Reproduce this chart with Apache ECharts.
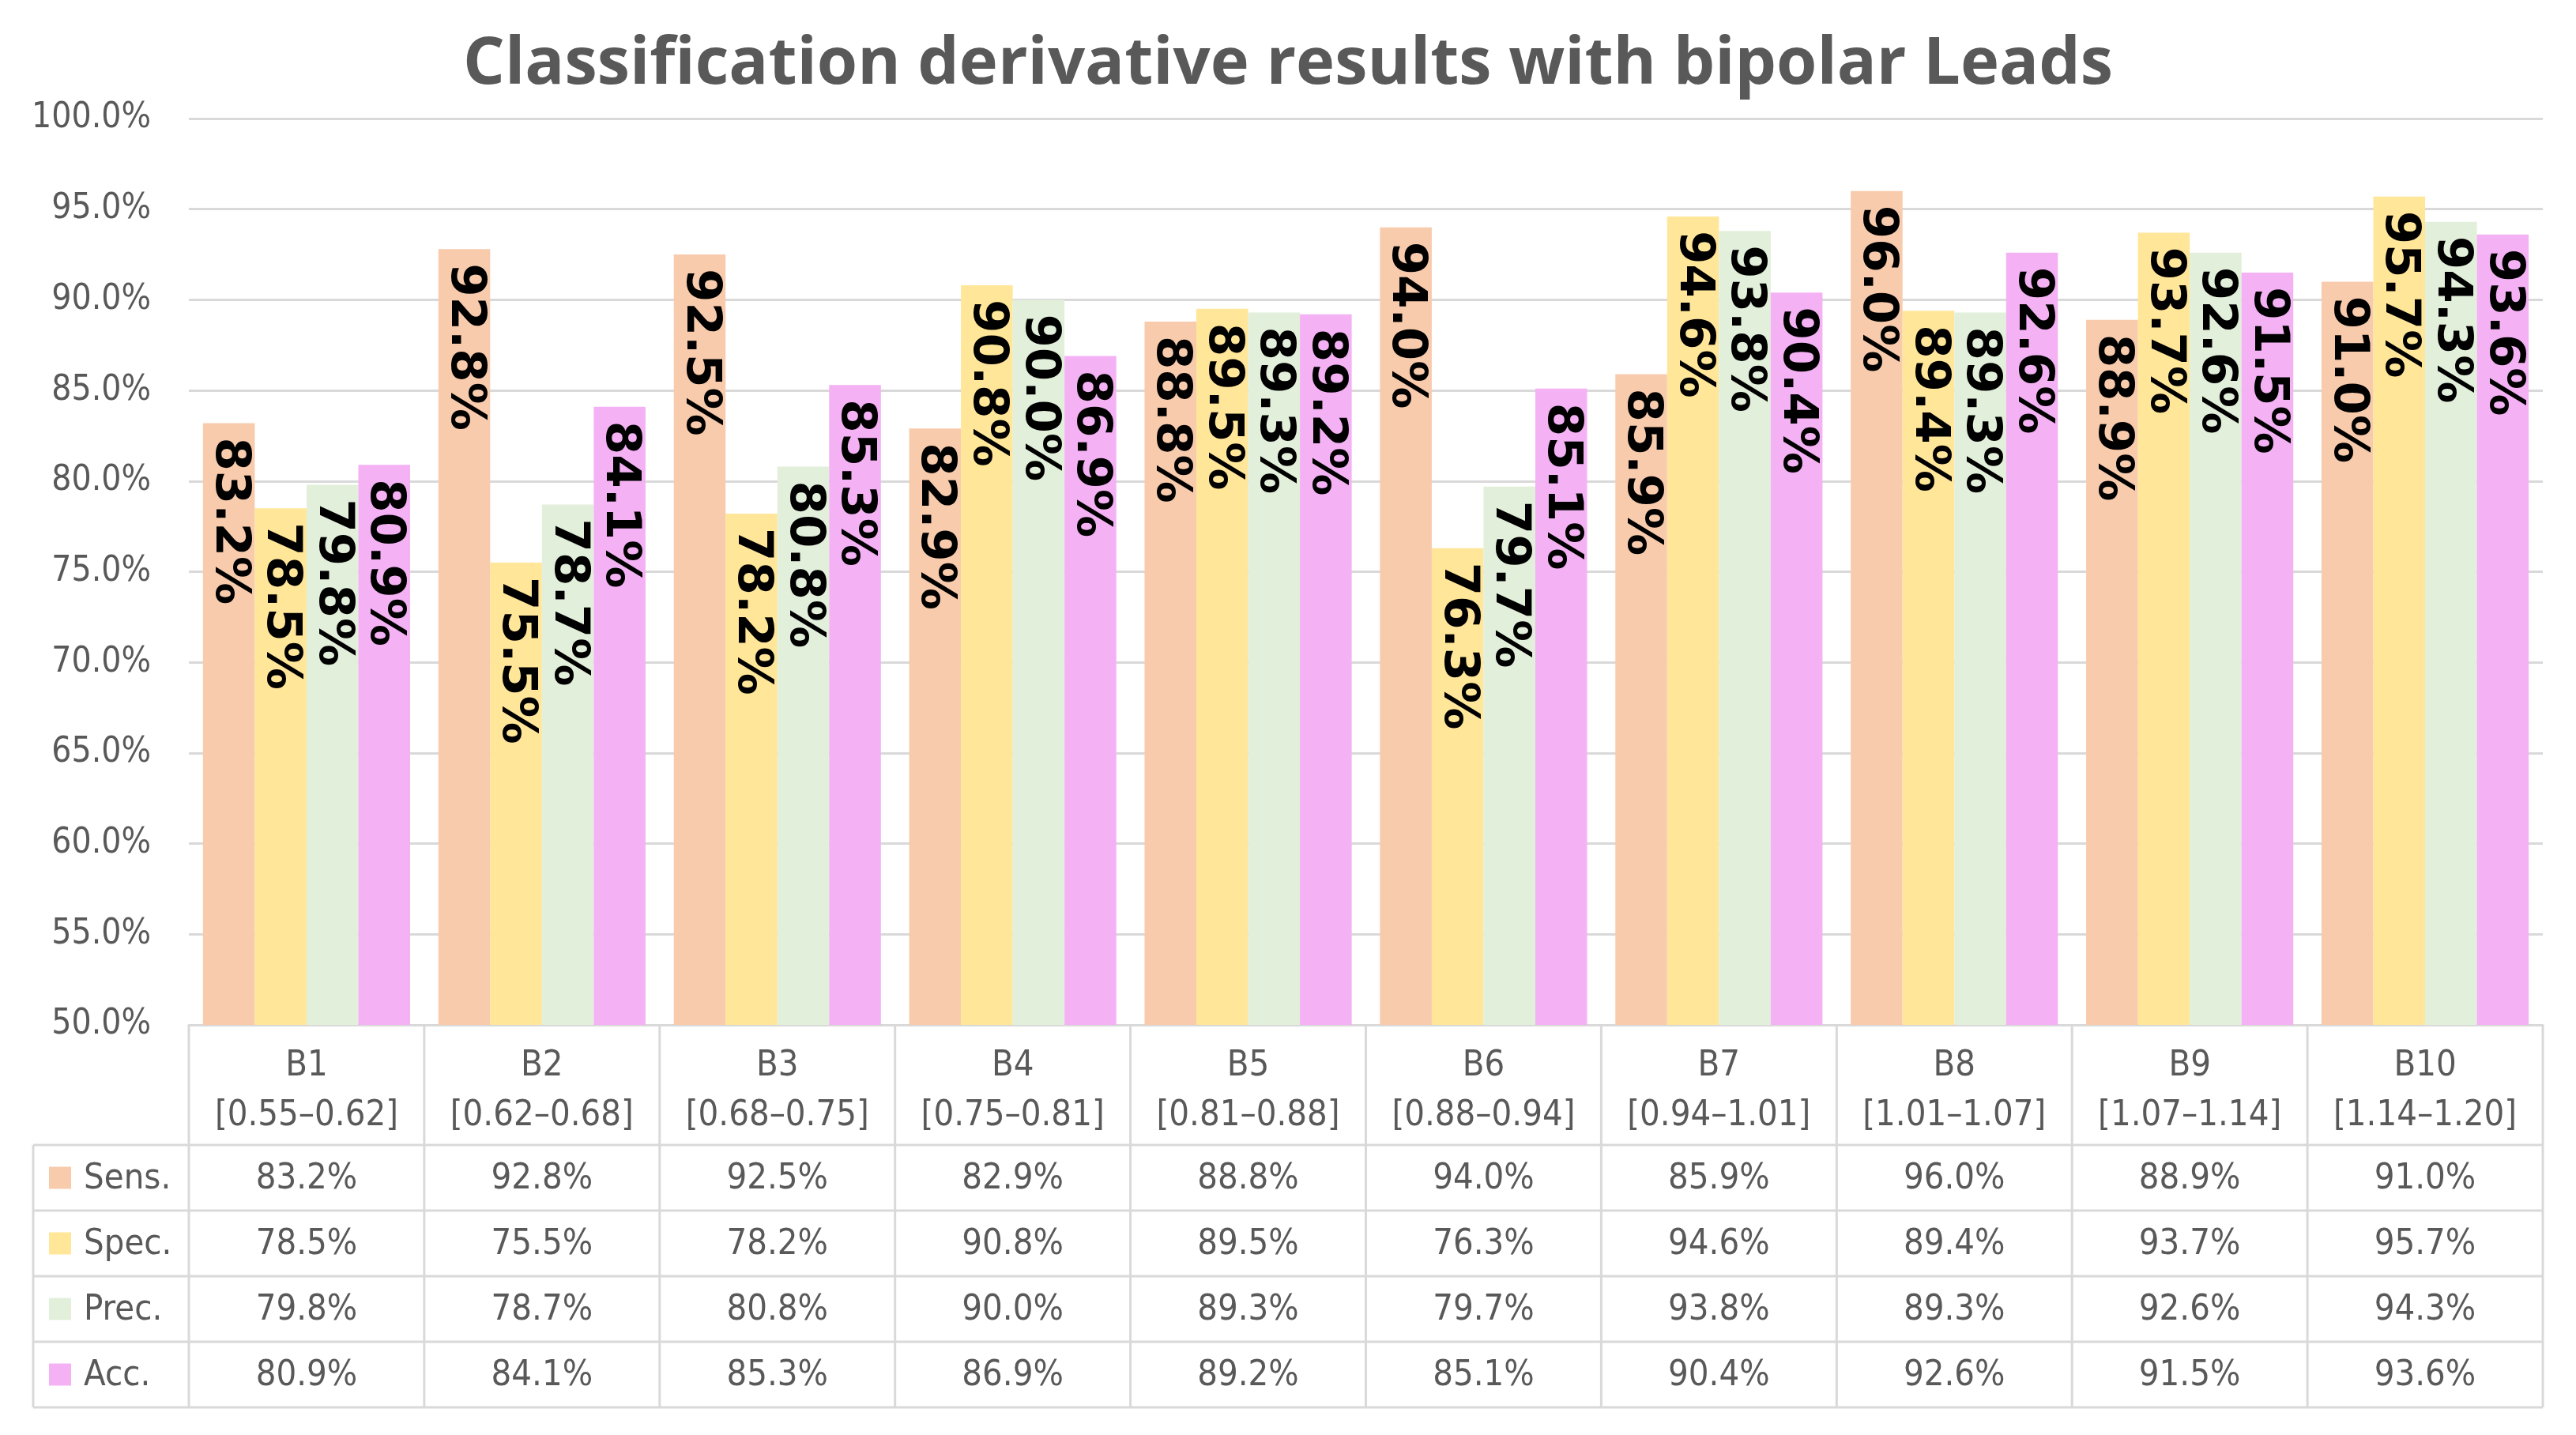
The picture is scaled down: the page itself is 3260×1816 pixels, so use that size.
<!DOCTYPE html>
<html><head><meta charset="utf-8">
<script src="https://cdn.jsdelivr.net/npm/echarts@6/dist/echarts.min.js"></script>
<style>html,body{margin:0;padding:0;background:#fff}#c{width:3260px;height:1816px}</style>
</head><body><div id="c"></div>
<script>
const titleText = 'Classification derivative results with bipolar Leads';
const bands = ['B1','B2','B3','B4','B5','B6','B7','B8','B9','B10'];
const ranges = ['[0.55–0.62]','[0.62–0.68]','[0.68–0.75]','[0.75–0.81]','[0.81–0.88]','[0.88–0.94]','[0.94–1.01]','[1.01–1.07]','[1.07–1.14]','[1.14–1.20]'];
const seriesNames = ['Sens.','Spec.','Prec.','Acc.'];
const sens = [83.2, 92.8, 92.5, 82.9, 88.8, 94.0, 85.9, 96.0, 88.9, 91.0];
const spec = [78.5, 75.5, 78.2, 90.8, 89.5, 76.3, 94.6, 89.4, 93.7, 95.7];
const prec = [79.8, 78.7, 80.8, 90.0, 89.3, 79.7, 93.8, 89.3, 92.6, 94.3];
const acc  = [80.9, 84.1, 85.3, 86.9, 89.2, 85.1, 90.4, 92.6, 91.5, 93.6];
const yMin = 50, yMax = 100, yStep = 5;
const colors = ['#F8CBAD', '#FFE699', '#E2EFDA', '#F4B2F4'];

const allSeries = [sens, spec, prec, acc];
const G = {left: 239, right: 42, top: 150, bottom: 519};
const W = 3260, H = 1816;
const gridBottomY = H - G.bottom;
const rowH = 83, headerH = 152;
const tableLeft = 42;
const textColor = '#595959', lineColor = '#D9D9D9';
const tableFont = '"DejaVu Sans Condensed", "DejaVu Sans", sans-serif';

const chart = echarts.init(document.getElementById('c'), null, {renderer: 'canvas'});
const option = {
  backgroundColor: '#fff',
  animation: false,
  title: {text: titleText, left: 'center', top: 36,
    textStyle: {fontFamily: '"Open Sans", sans-serif', fontWeight: 'bold', fontSize: 83, color: textColor}},
  grid: G,
  xAxis: {type: 'category', data: bands, axisLine: {show: true, lineStyle: {color: lineColor, width: 3}},
    axisTick: {show: false}, axisLabel: {show: false}},
  yAxis: {type: 'value', min: yMin, max: yMax, interval: yStep,
    axisLine: {show: false}, axisTick: {show: false},
    splitLine: {lineStyle: {color: lineColor, width: 3}},
    axisLabel: {formatter: v => v.toFixed(1) + '%', fontSize: 44, color: textColor, margin: 48,
      fontFamily: tableFont}},
  series: allSeries.map((d, i) => ({
    name: seriesNames[i], type: 'bar', data: d, barGap: '0%', barCategoryGap: '12%',
    itemStyle: {color: colors[i]},
    label: {show: true, position: 'insideTop', rotate: -90, align: 'left', verticalAlign: 'middle',
      distance: 18, formatter: p => p.value.toFixed(1) + '%', color: '#000', fontWeight: 'bold',
      fontSize: 61, fontFamily: '"DejaVu Sans", sans-serif'}
  }))
};
chart.setOption(option);

// table built from arrays using category positions from the axis
const c0 = chart.convertToPixel({xAxisIndex: 0}, 0);
const c1 = chart.convertToPixel({xAxisIndex: 0}, 1);
const cw = c1 - c0;
const gLeft = c0 - cw / 2;
const gRight = gLeft + cw * bands.length;
const g = [];
const ls = {stroke: lineColor, lineWidth: 3};
const yHeadTop = gridBottomY, yHeadBot = gridBottomY + headerH;
const yTabBot = yHeadBot + rowH * 4;
for (let i = 0; i <= bands.length; i++) {
  const x = gLeft + i * cw;
  g.push({type: 'line', shape: {x1: x, y1: yHeadTop, x2: x, y2: yTabBot}, style: ls, silent: true});
}
g.push({type: 'line', shape: {x1: tableLeft, y1: yHeadBot, x2: tableLeft, y2: yTabBot}, style: ls});
for (let r = 0; r <= 4; r++) {
  const y = yHeadBot + r * rowH;
  g.push({type: 'line', shape: {x1: tableLeft, y1: y, x2: gRight, y2: y}, style: ls});
}
for (let i = 0; i < bands.length; i++) {
  const cx = chart.convertToPixel({xAxisIndex: 0}, i);
  g.push({type: 'text', x: cx, y: yHeadTop + 52, style: {text: bands[i], align: 'center', verticalAlign: 'middle',
    font: '45px ' + tableFont, fill: textColor}});
  g.push({type: 'text', x: cx, y: yHeadTop + 115, style: {text: ranges[i], align: 'center', verticalAlign: 'middle',
    font: '45px ' + tableFont, fill: textColor}});
  for (let r = 0; r < 4; r++) {
    g.push({type: 'text', x: cx, y: yHeadBot + r * rowH + rowH / 2 + 2,
      style: {text: allSeries[r][i].toFixed(1) + '%', align: 'center', verticalAlign: 'middle',
        font: '45px ' + tableFont, fill: textColor}});
  }
}
for (let r = 0; r < 4; r++) {
  const yc = yHeadBot + r * rowH + rowH / 2;
  g.push({type: 'rect', shape: {x: 62, y: yc - 14, width: 28, height: 28}, style: {fill: colors[r]}});
  g.push({type: 'text', x: 106, y: yc + 2, style: {text: seriesNames[r], align: 'left', verticalAlign: 'middle',
    font: '45px ' + tableFont, fill: textColor}});
}
chart.setOption({graphic: g});
</script></body></html>
